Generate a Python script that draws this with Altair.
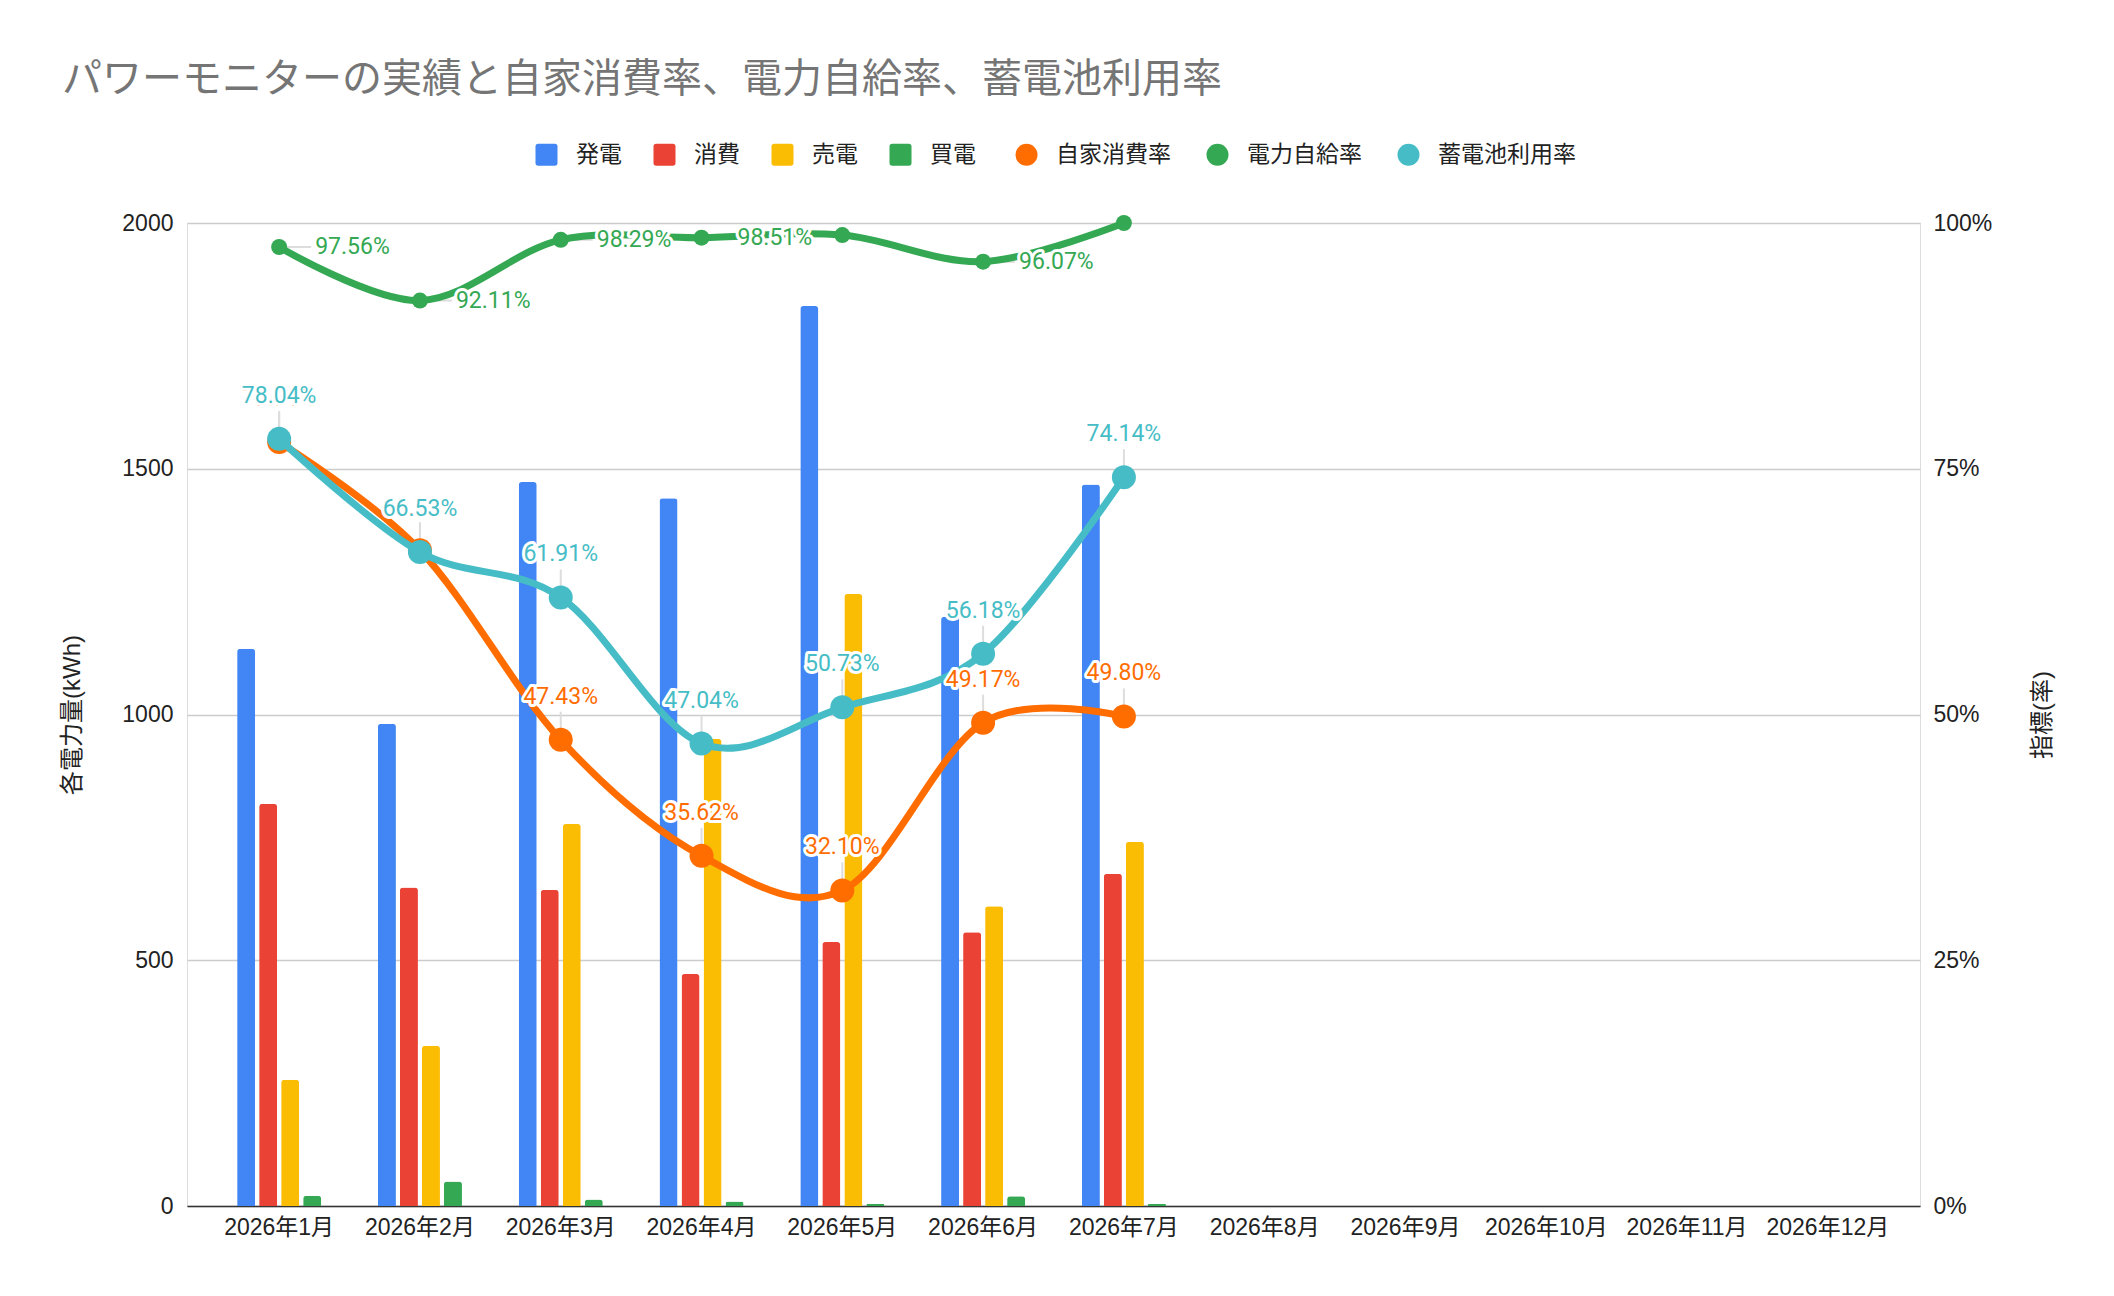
import altair as alt
import pandas as pd

# ---------------- data ----------------
months = ["2026年1月", "2026年2月", "2026年3月", "2026年4月", "2026年5月", "2026年6月",
          "2026年7月", "2026年8月", "2026年9月", "2026年10月", "2026年11月", "2026年12月"]
data_months = months[:7]

generation = [1134, 981, 1473, 1440, 1831, 1199, 1468]     # 発電
consumption = [818, 648, 643, 472, 537, 557, 676]          # 消費
sold = [257, 326, 777, 950, 1245, 610, 741]                # 売電
bought = [21, 50, 13, 9, 4, 20, 4]                         # 買電

self_consumption = [0.7771, 0.6671, 0.4743, 0.3562, 0.3210, 0.4917, 0.4980]   # 自家消費率
self_sufficiency = [0.9756, 0.9211, 0.9829, 0.9851, 0.9877, 0.9607, 1.0]      # 電力自給率
battery_use = [0.7804, 0.6653, 0.6191, 0.4704, 0.5073, 0.5618, 0.7414]        # 蓄電池利用率
sufficiency_label_shown = [True, True, True, True, False, True, False]

bar_series = ["発電", "消費", "売電", "買電"]
bar_colors = ["#4285F4", "#EA4335", "#FBBC04", "#34A853"]
rate_series = ["自家消費率", "電力自給率", "蓄電池利用率"]
rate_colors = ["#FF6D01", "#34A853", "#46BDC6"]

# ---------------- tables ----------------
bar_rows = []
for name, vals in zip(bar_series, [generation, consumption, sold, bought]):
    for m, v in zip(data_months, vals):
        bar_rows.append({"month": m, "series": name, "value": v})
bar_df = pd.DataFrame(bar_rows)

rate_rows = []
for name, vals in zip(rate_series, [self_consumption, self_sufficiency, battery_use]):
    for i, (m, v) in enumerate(zip(data_months, vals)):
        shown = sufficiency_label_shown[i] if name == "電力自給率" else True
        rate_rows.append({"month": m, "series": name, "rate": v, "shown": shown})
rate_df = pd.DataFrame(rate_rows)

color_map = dict(zip(bar_series + rate_series, bar_colors + rate_colors))

# ---------------- shared styling ----------------
AXIS_FONT = "Liberation Sans, Noto Sans CJK JP"
LABEL_FONT = "Roboto"

RSQ = ("M -0.75 -1 L 0.75 -1 Q 1 -1 1 -0.75 L 1 0.75 Q 1 1 0.75 1 "
       "L -0.75 1 Q -1 1 -1 0.75 L -1 -0.75 Q -1 -1 -0.75 -1 Z")

legend_common = dict(
    title=None, orient="none", direction="horizontal",
    symbolSize=484, symbolStrokeWidth=0, symbolOpacity=1,
    labelFontSize=23, labelFont="Noto Sans CJK JP", labelColor="#222222",
    labelOffset=18, padding=0,
)
bar_legend = alt.Legend(legendX=348, legendY=-80, columns=4, symbolType=RSQ,
                        columnPadding=31, **legend_common)
rate_legend = alt.Legend(legendX=828, legendY=-80, columns=3, symbolType="circle",
                         columnPadding=35, **legend_common)

bar_color_scale = alt.Scale(domain=bar_series, range=bar_colors)
rate_color_scale = alt.Scale(domain=rate_series, range=rate_colors)

x_enc = alt.X(
    "month:N", sort=months,
    scale=alt.Scale(domain=months, paddingInner=0.403, paddingOuter=0.356),
    axis=alt.Axis(title=None, labelAngle=0, labelFontSize=23, labelFont=AXIS_FONT,
                  labelColor="#222222", labelPadding=10, ticks=False, grid=False,
                  domainColor="#333333", domainWidth=1.5),
)

left_axis = alt.Axis(
    values=[0, 500, 1000, 1500, 2000], format="d", grid=True, gridColor="#cccccc", gridWidth=1.5,
    domain=False, ticks=False, labelFontSize=23, labelFont=AXIS_FONT, labelColor="#222222",
    labelPadding=14, title="各電力量(kWh)", titleFont=AXIS_FONT, titleFontSize=24,
    titleFontWeight="normal", titleColor="#222222", titleAngle=-90,
    titleX=-115, titleY=491.5, titleAlign="center", titleBaseline="middle",
)

right_axis = alt.Axis(
    orient="right", values=[0, 0.25, 0.5, 0.75, 1.0], format=".0%", grid=False,
    domain=False, ticks=False, labelFontSize=23, labelFont=AXIS_FONT, labelColor="#222222",
    labelPadding=13, title="指標(率)", titleFont=AXIS_FONT, titleFontSize=24,
    titleFontWeight="normal", titleColor="#222222", titleAngle=-90,
    titleX=122, titleY=491.5, titleAlign="center", titleBaseline="middle",
)

rate_scale = alt.Scale(domain=[0, 1], nice=False)


def rate_x():
    return alt.X("month:N", sort=months)


def rate_y():
    return alt.Y("rate:Q", scale=rate_scale, axis=right_axis)


def rate_color():
    return alt.Color("series:N", scale=rate_color_scale, legend=rate_legend)


# ---------------- bars ----------------
bars = alt.Chart(bar_df).mark_bar(cornerRadiusTopLeft=3, cornerRadiusTopRight=3).encode(
    x=x_enc,
    xOffset=alt.XOffset("series:N", sort=bar_series,
                        scale=alt.Scale(domain=bar_series, paddingInner=0.182, paddingOuter=0)),
    y=alt.Y("value:Q", scale=alt.Scale(domain=[0, 2000], nice=False), axis=left_axis),
    color=alt.Color("series:N", scale=bar_color_scale, legend=bar_legend),
)

# ---------------- rate layers ----------------
rate_layers = []
rate_base = alt.Chart(rate_df)

# leader rules
for s in ["自家消費率", "蓄電池利用率"]:
    rate_layers.append(
        rate_base.transform_filter(alt.datum.series == s)
        .mark_rule(color="#dddddd", strokeWidth=2, y2Offset=-28)
        .encode(x=rate_x(), y=rate_y(), y2=alt.Y2("rate:Q"))
    )
rate_layers.append(
    rate_base.transform_filter((alt.datum.series == "電力自給率") & alt.datum.shown)
    .mark_rule(color="#dddddd", strokeWidth=2, x2Offset=32)
    .encode(x=rate_x(), x2=alt.X2("month:N"), y=rate_y())
)

# lines + points
for s, psize in [("自家消費率", 576), ("電力自給率", 256), ("蓄電池利用率", 576)]:
    sub = rate_base.transform_filter(alt.datum.series == s)
    rate_layers.append(
        sub.mark_line(strokeWidth=7, interpolate="cardinal").encode(
            x=rate_x(), y=rate_y(), color=rate_color())
    )
    rate_layers.append(
        sub.mark_circle(size=psize, opacity=1).encode(
            x=rate_x(), y=rate_y(), color=rate_color())
    )

# labels above points (orange, then cyan on top)
for s in ["自家消費率", "蓄電池利用率"]:
    sub = rate_base.transform_filter(alt.datum.series == s)
    enc = dict(x=rate_x(), y=rate_y(), text=alt.Text("rate:Q", format=".2%"))
    rate_layers.append(sub.mark_text(dy=-36, baseline="alphabetic", fontSize=23, font=LABEL_FONT,
                                     stroke="white", strokeWidth=6, strokeJoin="round",
                                     color="white").encode(**enc))
    rate_layers.append(sub.mark_text(dy=-36, baseline="alphabetic", fontSize=23, font=LABEL_FONT,
                                     color=color_map[s]).encode(**enc))

# labels right of green points
sub = rate_base.transform_filter((alt.datum.series == "電力自給率") & alt.datum.shown)
enc = dict(x=rate_x(), y=rate_y(), text=alt.Text("rate:Q", format=".2%"))
rate_layers.append(sub.mark_text(dx=36, align="left", baseline="middle", fontSize=23, font=LABEL_FONT,
                                 stroke="white", strokeWidth=6, strokeJoin="round",
                                 color="white").encode(**enc))
rate_layers.append(sub.mark_text(dx=36, align="left", baseline="middle", fontSize=23, font=LABEL_FONT,
                                 color=color_map["電力自給率"]).encode(**enc))

rates = alt.layer(*rate_layers)

chart = alt.layer(bars, rates).resolve_scale(y="independent", color="independent").properties(
    width=1733, height=983,
    autosize=alt.AutoSizeParams(type="none"),
    padding={"left": 179, "top": 215, "right": 180, "bottom": 78},
    title=alt.TitleParams(
        text="パワーモニターの実績と自家消費率、電力自給率、蓄電池利用率",
        anchor="start", frame="group", dx=-125, offset=11,
        fontSize=40, font="Noto Sans CJK JP", fontWeight="normal", color="#757575",
        baseline="alphabetic",
    ),
).configure_view(stroke=None).configure(background="white")

chart.save("out.html", embed_options={"renderer": "svg", "actions": False})
